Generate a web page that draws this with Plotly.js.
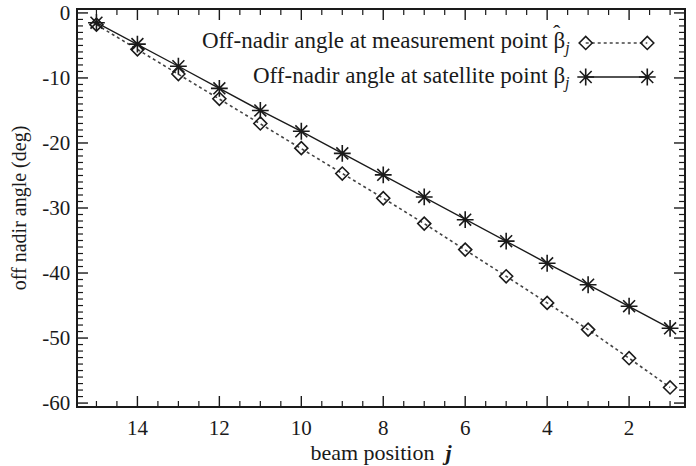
<!DOCTYPE html>
<html>
<head>
<meta charset="utf-8">
<script src="https://cdn.plot.ly/plotly-3.0.1.min.js"></script>
<style>
  html, body { margin: 0; padding: 0; background: #fff; }
  #chart { width: 696px; height: 466px; }
</style>
</head>
<body>
<div id="chart"></div>
<script>
// Beam positions and off-nadir angles (deg)
const beamPosition = [15, 14, 13, 12, 11, 10, 9, 8, 7, 6, 5, 4, 3, 2, 1];
const angleMeasurement = [-1.8, -5.6, -9.4, -13.2, -17.0, -20.8, -24.7, -28.5, -32.4, -36.4, -40.5, -44.6, -48.7, -53.1, -57.6];
const angleSatellite = [-1.5, -4.8, -8.2, -11.6, -15.0, -18.2, -21.6, -24.9, -28.3, -31.8, -35.1, -38.5, -41.8, -45.1, -48.5];

const legendLabels = [
  'Off-nadir angle at measurement point β<sub><i>j</i></sub>',
  'Off-nadir angle at satellite point β<sub><i>j</i></sub>'
];
const xTicks = [14, 12, 10, 8, 6, 4, 2];
const yTicks = [0, -10, -20, -30, -40, -50, -60];

const xRange = [15.45, 0.66];
const yRange = [-60.45, 0.45];

const W = 696, H = 466;
const margin = { l: 78, r: 12, t: 10, b: 60 };
const plotW = W - margin.l - margin.r;
const plotH = H - margin.t - margin.b;

const serif = 'Liberation Serif, Times New Roman, serif';
const ink = '#1a1a1a';

// minor tick positions: every half beam, every degree
function steps(from, to, step) {
  const out = [];
  for (let v = from; v <= to + 1e-9; v += step) out.push(Math.round(v * 100) / 100);
  return out;
}
const xMinor = steps(1, 15, 0.5).filter(v => xTicks.indexOf(v) < 0);
const yMinor = steps(-60, 0, 1).filter(v => yTicks.indexOf(v) < 0);

// inward tick marks on all four sides of the frame, as line segments;
// lengths are given in pixels and converted through the axis scales
const xPerPx = (xRange[1] - xRange[0]) / plotW;   // data units per pixel, left to right
const yPerPx = (yRange[1] - yRange[0]) / plotH;   // data units per pixel, bottom to top
function tickSegments(xv, yv, len) {
  const x = [], y = [];
  xv.forEach(v => {
    x.push(v, v, null, v, v, null);
    y.push(yRange[0], yRange[0] + len * yPerPx, null, yRange[1], yRange[1] - len * yPerPx, null);
  });
  yv.forEach(v => {
    x.push(xRange[0], xRange[0] + len * xPerPx, null, xRange[1], xRange[1] - len * xPerPx, null);
    y.push(v, v, null, v, v, null);
  });
  return { x, y };
}
const majorSeg = tickSegments(xTicks, yTicks, 10);
const minorSeg = tickSegments(xMinor, yMinor, 5);

const measStyle = {
  line: { color: '#444', width: 1.6, dash: 'dot' },
  marker: { symbol: 'diamond-open', size: 10, color: ink, line: { width: 1.6, color: ink } }
};
const satStyle = {
  line: { color: ink, width: 1.4 },
  marker: { symbol: 'asterisk-open', size: 14, color: ink, line: { width: 1.6, color: ink } }
};

// legend key placement, as fractions of the plot area
const keyU = [0.8378, 0.9394];
const keyV = [0.9167, 0.8308];
const fromUnit = (r, u) => r[0] + u * (r[1] - r[0]);
const keyX = keyU.map(u => fromUnit(xRange, u));

const traces = [
  { x: majorSeg.x, y: majorSeg.y, mode: 'lines', type: 'scatter', line: { color: ink, width: 1.4 }, hoverinfo: 'skip', connectgaps: false },
  { x: minorSeg.x, y: minorSeg.y, mode: 'lines', type: 'scatter', line: { color: ink, width: 1.2 }, hoverinfo: 'skip', connectgaps: false },
  Object.assign({ x: beamPosition, y: angleMeasurement, mode: 'lines+markers', type: 'scatter' }, measStyle),
  Object.assign({ x: beamPosition, y: angleSatellite, mode: 'lines+markers', type: 'scatter' }, satStyle),
  Object.assign({ x: keyX, y: keyX.map(() => fromUnit(yRange, keyV[0])), mode: 'lines+markers', type: 'scatter', hoverinfo: 'skip' }, measStyle),
  Object.assign({ x: keyX, y: keyX.map(() => fromUnit(yRange, keyV[1])), mode: 'lines+markers', type: 'scatter', hoverinfo: 'skip' }, satStyle)
];

const axisCommon = {
  showline: true, linecolor: ink, linewidth: 1.6, mirror: true,
  ticks: '', showgrid: false, zeroline: false,
  tickfont: { family: serif, size: 21, color: ink }
};

const layout = {
  width: W, height: H,
  margin: margin,
  paper_bgcolor: '#fff', plot_bgcolor: '#fff',
  font: { family: serif, color: ink },
  xaxis: Object.assign({}, axisCommon, {
    range: xRange,
    tickmode: 'array', tickvals: xTicks, ticktext: xTicks.map(String),
    ticklabelstandoff: 2,
    title: { text: 'beam position  <b><i>j</i></b>', font: { family: serif, size: 22, color: ink }, standoff: 0 }
  }),
  yaxis: Object.assign({}, axisCommon, {
    range: yRange,
    tickmode: 'array', tickvals: yTicks, ticktext: yTicks.map(String),
    ticklabelstandoff: 2,
    title: { text: 'off nadir angle (deg)', font: { family: serif, size: 20, color: ink }, standoff: 10 }
  }),
  annotations: legendLabels.map((t, i) => ({
    text: t, xref: 'paper', yref: 'paper', x: 0.815, y: keyV[i],
    xanchor: 'right', yanchor: 'middle', showarrow: false,
    font: { family: serif, size: 23, color: ink }
  })).concat([{
    // circumflex over the first β
    text: '\u02C6', xref: 'paper', yref: 'paper', x: 0.7904, y: 0.942,
    xanchor: 'center', yanchor: 'middle', showarrow: false,
    font: { family: serif, size: 22, color: ink }
  }]),
  showlegend: false
};

Plotly.newPlot('chart', traces, layout, { displayModeBar: false, staticPlot: true });
</script>
</body>
</html>
